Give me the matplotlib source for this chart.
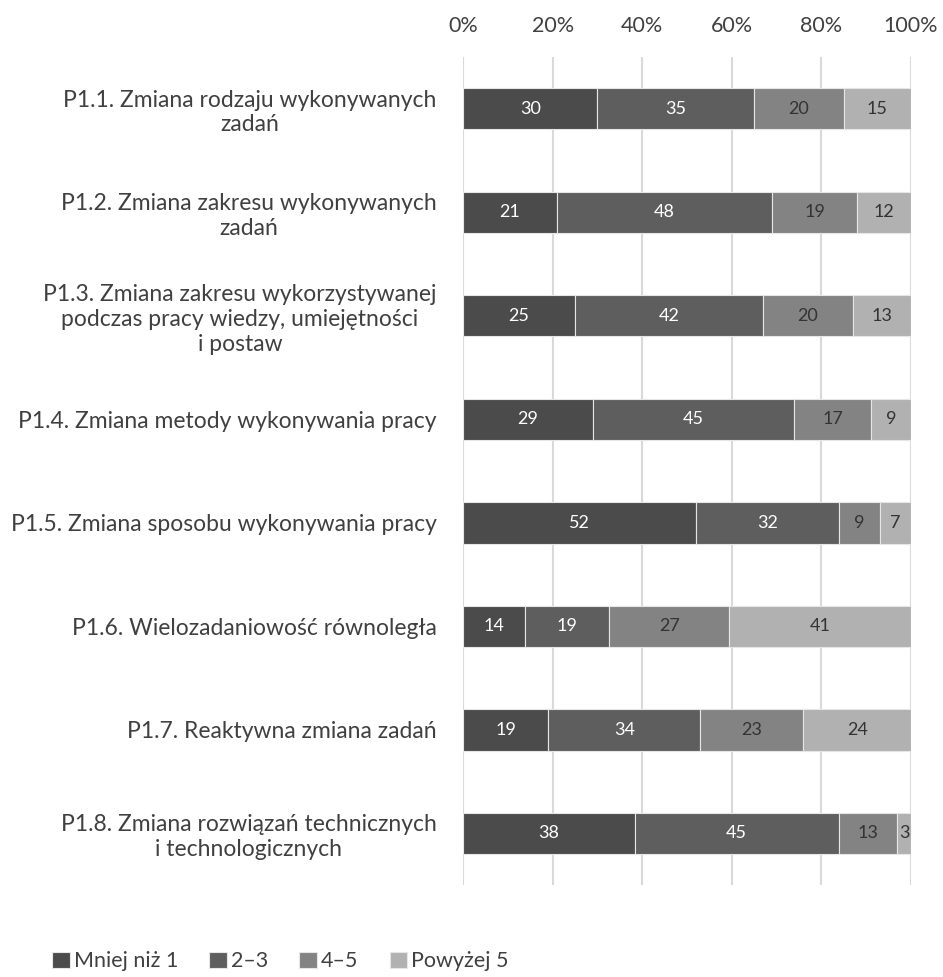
import matplotlib.pyplot as plt
import numpy as np

plt.rcParams['font.family'] = ['Lato', 'DejaVu Sans']

# categories (top to bottom) and answer shares
categories = [
    'P1.1. Zmiana rodzaju wykonywanych\nzadań',
    'P1.2. Zmiana zakresu wykonywanych\nzadań',
    'P1.3. Zmiana zakresu wykorzystywanej\npodczas pracy wiedzy, umiejętności\ni postaw',
    'P1.4. Zmiana metody wykonywania pracy',
    'P1.5. Zmiana sposobu wykonywania pracy',
    'P1.6. Wielozadaniowość równoległa',
    'P1.7. Reaktywna zmiana zadań',
    'P1.8. Zmiana rozwiązań technicznych\ni technologicznych',
]
series = ['Mniej niż 1', '2–3', '4–5', 'Powyżej 5']
mniej_niz_1 = [30, 21, 25, 29, 52, 14, 19, 38]
od_2_do_3 = [35, 48, 42, 45, 32, 19, 34, 45]
od_4_do_5 = [20, 19, 20, 17, 9, 27, 23, 13]
powyzej_5 = [15, 12, 13, 9, 7, 41, 24, 3]

colors = ['#4b4b4b', '#5e5e5e', '#838383', '#b1b1b1']
label_colors = ['white', 'white', '#333333', '#333333']

values = np.array([mniej_niz_1, od_2_do_3, od_4_do_5, powyzej_5], dtype=float)
shares = values / values.sum(axis=0) * 100  # 100% stacked

fig = plt.figure(figsize=(9.43, 9.77), dpi=100)
ax = fig.add_axes([0.491, 0.094, 0.475, 0.8477])

y = np.arange(len(categories))
left = np.zeros(len(categories))
for i, name in enumerate(series):
    bars = ax.barh(y, shares[i], left=left, height=0.4, color=colors[i],
                   edgecolor='#e6e6e6', linewidth=0.8, label=name, zorder=3)
    for j, b in enumerate(bars):
        ax.text(left[j] + shares[i][j] / 2, y[j], f'{int(values[i][j])}',
                ha='center', va='center', color=label_colors[i],
                fontsize=13, zorder=4)
    left += shares[i]

ax.set_xlim(0, 100)
ax.set_ylim(len(categories) - 0.5, -0.5)
ax.set_xticks(np.arange(0, 101, 20))
ax.set_xticklabels([f'{v}%' for v in range(0, 101, 20)])
ax.xaxis.tick_top()
ax.tick_params(axis='x', length=0, pad=15, labelsize=15.5, labelcolor='#404040')
ax.set_yticks(y)
ax.set_yticklabels(categories)
ax.tick_params(axis='y', length=0, pad=19, labelsize=16.5, labelcolor='#404040')
for lab in ax.get_yticklabels():
    lab.set_multialignment('center')
    lab.set_linespacing(1.22)

ax.grid(axis='x', color='#d9d9d9', linewidth=1.5, zorder=0)
for s in ax.spines.values():
    s.set_visible(False)

fig.legend(loc='lower left', bbox_to_anchor=(0.035, -0.014), ncol=4, frameon=False,
           fontsize=15.5, handlelength=0.8, handleheight=0.8, handletextpad=0.2,
           columnspacing=1.45, labelcolor='#404040')

fig.savefig('out.png', dpi=100)
